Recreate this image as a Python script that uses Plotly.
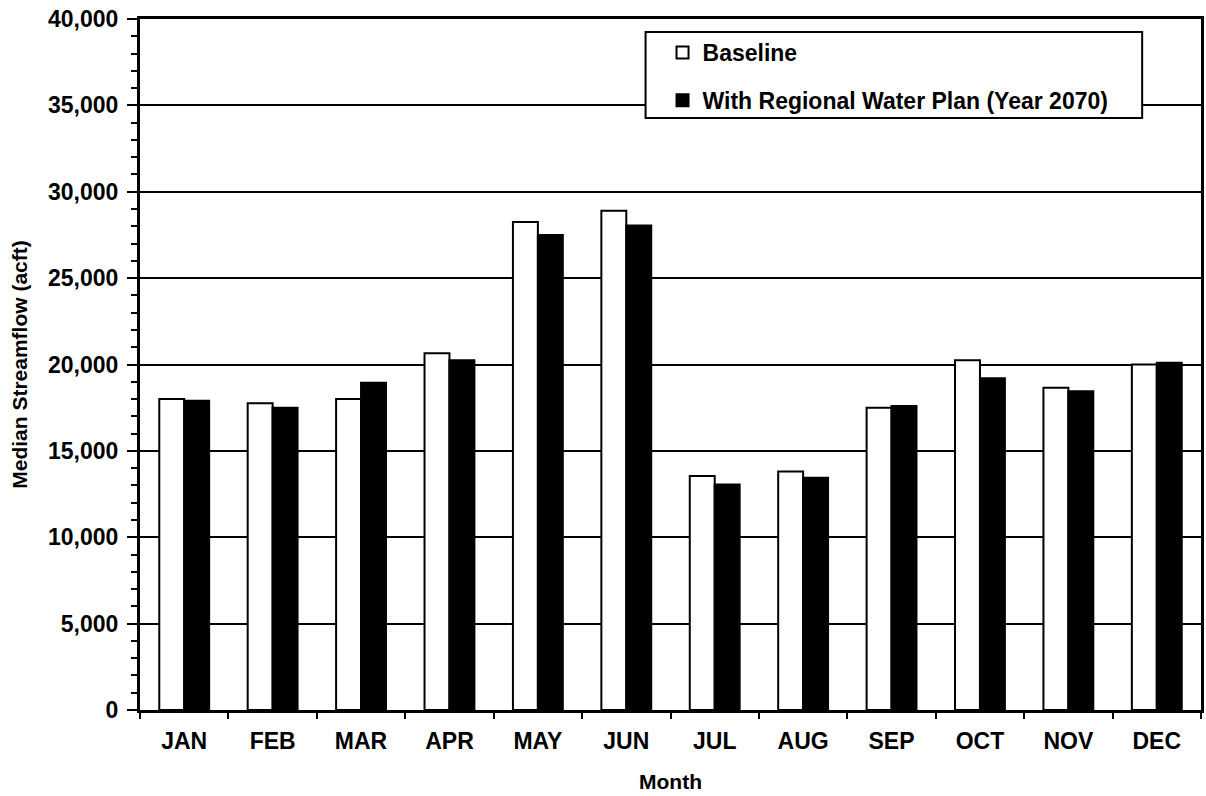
import plotly.graph_objects as go

# Median monthly streamflow (acft)
months = ["JAN", "FEB", "MAR", "APR", "MAY", "JUN",
          "JUL", "AUG", "SEP", "OCT", "NOV", "DEC"]
baseline = [18000, 17750, 18000, 20650, 28250, 28900,
            13550, 13800, 17500, 20250, 18650, 20000]
with_plan = [17900, 17500, 18950, 20250, 27500, 28050,
             13050, 13450, 17600, 19200, 18450, 20100]

y_ticks = list(range(0, 40001, 5000))
y_tick_text = [f"{v:,}" for v in y_ticks]

FONT = "Liberation Sans, Arial, sans-serif"

fig = go.Figure()
fig.add_trace(go.Bar(
    x=months, y=baseline, name="<b>Baseline</b>", legendgroup="a",
    marker=dict(color="white", line=dict(color="black", width=2)),
))
fig.add_trace(go.Bar(
    x=months, y=with_plan, name="<b>With Regional Water Plan (Year 2070)</b>",
    legendgroup="b",
    marker=dict(color="black", line=dict(color="black", width=2)),
))

W, H = 1206, 796
L, R, T, B = 140, 2, 19, 86
pw = W - L - R
ph = H - T - B

def px_x(p):
    return (p - L) / pw

def px_y(p):
    return (H - B - p) / ph

# legend frame
fig.add_shape(type="rect", xref="paper", yref="paper",
              x0=px_x(647), x1=px_x(1145), y0=px_y(118), y1=px_y(32),
              fillcolor="white", line=dict(color="black", width=2),
              layer="above")

fig.update_layout(
    width=W, height=H,
    margin=dict(l=L, r=R, t=T, b=B, pad=0),
    paper_bgcolor="white", plot_bgcolor="white",
    font=dict(family=FONT, color="black", size=22),
    barmode="group", bargap=0.436, bargroupgap=0,
    showlegend=True,
    legend=dict(
        x=px_x(664), y=px_y(31), xanchor="left", yanchor="top",
        bgcolor="rgba(0,0,0,0)", borderwidth=0,
        font=dict(family=FONT, size=23, color="black"),
        tracegroupgap=15, traceorder="grouped",
    ),
    xaxis=dict(
        showline=True, linecolor="black", linewidth=3, mirror=True,
        ticks="outside", tickson="boundaries", ticklen=6, tickwidth=2,
        tickcolor="black", ticklabelstandoff=8,
        tickfont=dict(family=FONT, size=23, color="black", weight="bold"),
        title=dict(text="<b>Month</b>", font=dict(size=21), standoff=22),
        showgrid=False,
    ),
    yaxis=dict(
        range=[0, 40000],
        tickvals=y_ticks, ticktext=y_tick_text,
        showline=True, linecolor="black", linewidth=3, mirror=True,
        ticks="outside", ticklen=10, tickwidth=2, tickcolor="black",
        ticklabelstandoff=4,
        minor=dict(dtick=1000, ticks="outside", ticklen=6, tickwidth=2,
                   tickcolor="black", showgrid=False),
        tickfont=dict(family=FONT, size=23, color="black", weight="bold"),
        showgrid=True, gridcolor="black", gridwidth=1.5,
        zeroline=False,
        title=dict(text="<b>Median Streamflow (acft)</b>",
                   font=dict(size=21), standoff=15),
    ),
)

fig.write_html("out.html")
